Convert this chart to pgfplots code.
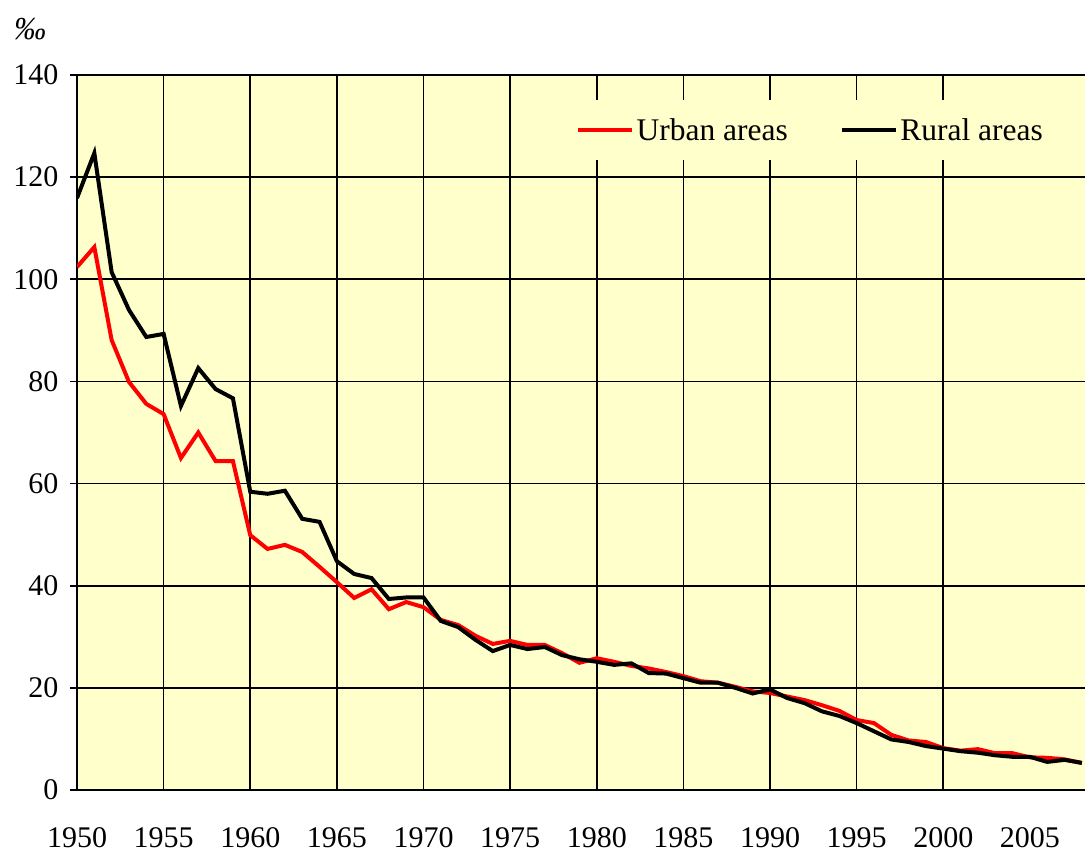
\documentclass[border=0pt]{standalone}
\usepackage{fontspec}
\setmainfont{Liberation Serif}
\usepackage{pgfplots}
\usepackage{pgfplotstable}
\pgfplotsset{compat=1.18}
\definecolor{bg}{HTML}{FFFFCC}
\definecolor{urb}{HTML}{FF0000}
\pgfplotstableread{
year urban rural
1950 102.4 115.9
1951 106.3 124.7
1952 88.1 101.4
1953 79.9 94.0
1954 75.6 88.7
1955 73.6 89.3
1956 65.0 75.2
1957 70.0 82.6
1958 64.4 78.5
1959 64.4 76.7
1960 49.9 58.4
1961 47.2 58.0
1962 48.0 58.6
1963 46.6 53.1
1964 43.7 52.5
1965 40.7 44.8
1966 37.6 42.3
1967 39.3 41.5
1968 35.4 37.4
1969 36.8 37.7
1970 35.8 37.7
1971 33.3 33.1
1972 32.3 31.9
1973 30.2 29.4
1974 28.6 27.2
1975 29.2 28.4
1976 28.4 27.6
1977 28.4 28.0
1978 26.8 26.4
1979 24.9 25.6
1980 25.8 25.1
1981 25.1 24.5
1982 24.3 24.8
1983 23.8 22.9
1984 23.1 22.8
1985 22.3 21.9
1986 21.3 21.0
1987 21.0 21.0
1988 20.2 20.0
1989 19.3 18.9
1990 19.0 19.7
1991 18.3 18.0
1992 17.6 17.0
1993 16.6 15.4
1994 15.5 14.5
1995 13.7 13.1
1996 13.1 11.5
1997 10.8 9.9
1998 9.7 9.4
1999 9.4 8.6
2000 8.2 8.1
2001 7.7 7.6
2002 8.0 7.3
2003 7.2 6.8
2004 7.2 6.5
2005 6.4 6.5
2006 6.3 5.5
2007 6.0 5.9
2008 5.3 5.3
}\data
\begin{document}
\begin{tikzpicture}
\path[use as bounding box] (0,0) rectangle (1085pt,852pt);
\node[font=\fontsize{32}{34}\selectfont\itshape] at (30pt,823pt) {‰};
\begin{axis}[
  at={(77pt,62pt)}, anchor=south west,
  scale only axis, width=1010pt, height=715pt,
  xmin=1950, xmax=2008.3, ymin=0, ymax=140,
  axis background/.style={fill=bg},
  xtick={1950,1955,...,2000}, extra x ticks={2005},
  extra x tick style={grid=none},
  ytick={0,20,...,140},
  grid=major, major grid style={black, line width=1.6pt},
  axis line style={black, line width=1.6pt},
  ytick style={black, line width=1.6pt},
  xtick style={draw=none},
  ytick align=outside, ytick pos=left, major tick length=7pt,
  /pgf/number format/1000 sep={},
  /pgf/number format/assume math mode=true,
  ticklabel style={font=\fontsize{30}{32}\selectfont},
  xticklabel style={yshift=-34pt},
  yticklabel style={xshift=-8pt},
  legend style={at={(0.488,0.965)}, anchor=north west, fill=bg, draw=none,
    font=\fontsize{31.5}{33}\selectfont, inner xsep=6pt, inner ysep=16pt,
    /tikz/every even column/.append style={column sep=50pt}},
  legend columns=2,
  legend image code/.code={\draw[#1, line width=4.5pt] (0pt,0pt) -- (54pt,0pt);},
]
\addplot[urb, line width=4pt] table[x=year, y=urban] {\data};
\addlegendentry{Urban areas}
\addplot[black, line width=4pt] table[x=year, y=rural] {\data};
\addlegendentry{Rural areas}
\end{axis}
\end{tikzpicture}
\end{document}
